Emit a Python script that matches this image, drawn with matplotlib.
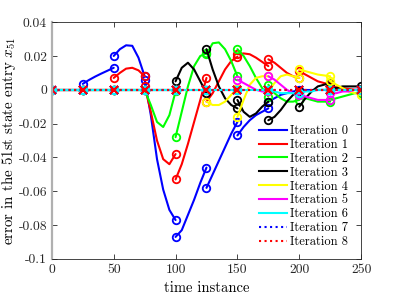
import numpy as np
import matplotlib
matplotlib.use("Agg")
import matplotlib.pyplot as plt
from matplotlib.lines import Line2D

# shooting nodes and sample offsets inside each segment
t_nodes = [0, 25, 50, 75, 100, 125, 150, 175, 200, 225]
seg_offsets = [0, 5, 10, 15, 20, 25]

ZERO = [0, 0, 0, 0, 0, 0]

# error values read per segment (10 segments x 6 samples)
iter0 = [ZERO,
         [0.0035, 0.0058, 0.0078, 0.0096, 0.0113, 0.013],
         [0.020, 0.024, 0.0263, 0.026, 0.019, 0.008],
         [0.006, -0.015, -0.041, -0.059, -0.071, -0.077],
         [-0.087, -0.083, -0.074, -0.065, -0.055, -0.046],
         [-0.058, -0.050, -0.042, -0.034, -0.026, -0.019],
         [-0.027, -0.022, -0.018, -0.015, -0.013, -0.011],
         [-0.007, -0.005, -0.003, -0.002, -0.001, -0.0005],
         ZERO, ZERO]
iter1 = [ZERO, ZERO,
         [0.007, 0.010, 0.0125, 0.013, 0.0115, 0.008],
         [0.002, -0.013, -0.030, -0.041, -0.044, -0.038],
         [-0.053, -0.044, -0.032, -0.019, -0.006, 0.007],
         [-0.007, -0.002, 0.005, 0.012, 0.017, 0.0195],
         [0.021, 0.0215, 0.021, 0.019, 0.0165, 0.014],
         [0.018, 0.016, 0.013, 0.010, 0.008, 0.007],
         [0.011, 0.009, 0.007, 0.005, 0.004, 0.003],
         [0.002, 0.0015, 0.001, 0.0005, 0.0, 0.0]]
iter2 = [ZERO, ZERO, ZERO,
         [0.0, -0.009, -0.019, -0.022, -0.015, -0.001],
         [-0.028, -0.013, 0.002, 0.014, 0.020, 0.0215],
         [0.021, 0.0275, 0.028, 0.024, 0.017, 0.008],
         [0.024, 0.020, 0.014, 0.007, 0.001, -0.004],
         [0.003, -0.002, -0.005, -0.007, -0.007, -0.006],
         [-0.003, -0.005, -0.006, -0.007, -0.007, -0.007],
         [-0.006, -0.005, -0.004, -0.003, -0.002, -0.002]]
iter3 = [ZERO, ZERO, ZERO, ZERO,
         [0.005, 0.013, 0.016, 0.012, 0.005, -0.002],
         [0.024, 0.012, 0.002, -0.005, -0.009, -0.011],
         [-0.006, -0.013, -0.016, -0.014, -0.010, -0.007],
         [-0.018, -0.016, -0.012, -0.007, -0.003, -0.001],
         [-0.010, -0.005, -0.001, 0.002, 0.003, 0.004],
         [0.001, 0.001, 0.002, 0.002, 0.002, 0.002]]
iter4 = [ZERO, ZERO, ZERO, ZERO, ZERO,
         [-0.007, -0.009, -0.009, -0.007, -0.003, 0.001],
         [-0.016, -0.006, 0.003, 0.007, 0.008, 0.008],
         [-0.001, 0.004, 0.008, 0.009, 0.008, 0.007],
         [0.012, 0.011, 0.010, 0.009, 0.0085, 0.008],
         [0.005, 0.003, 0.001, -0.001, -0.002, -0.003]]
iter5 = [ZERO, ZERO, ZERO, ZERO, ZERO, ZERO,
         [0.006, 0.004, 0.002, 0.000, -0.001, -0.001],
         [0.008, 0.006, 0.003, 0.000, -0.002, -0.003],
         [-0.002, -0.004, -0.005, -0.006, -0.006, -0.006],
         [-0.002, -0.002, -0.001, -0.001, 0.0, 0.0]]
iter6 = [ZERO, ZERO, ZERO, ZERO, ZERO, ZERO, ZERO,
         [0.0, -0.001, -0.002, -0.002, -0.002, -0.002],
         [-0.002, -0.001, -0.001, 0.0, 0.0, 0.0],
         ZERO]
iter7 = [ZERO] * 10
iter8 = [ZERO] * 10

iterations = [iter0, iter1, iter2, iter3, iter4, iter5, iter6, iter7, iter8]
labels = ["Iteration %d" % k for k in range(9)]
colors = ["#0000ff", "#ff0000", "#00ff00", "#000000", "#ffff00",
          "#ff00ff", "#00ffff", "#0000ff", "#ff0000"]
styles = ["-"] * 7 + [":", ":"]
markers = ["o"] * 7 + ["x", "x"]

xticks = [0, 50, 100, 150, 200, 250]
yticks = [-0.1, -0.08, -0.06, -0.04, -0.02, 0, 0.02, 0.04]
ytick_labels = ["-0.1", "-0.08", "-0.06", "-0.04", "-0.02", "0", "0.02", "0.04"]

plt.rcParams["font.family"] = ["cmr10", "DejaVu Serif"]
plt.rcParams["mathtext.fontset"] = "cm"
plt.rcParams["axes.unicode_minus"] = False

fig = plt.figure(figsize=(3.99, 2.99), dpi=100)
ax = fig.add_axes([0.130, 0.134, 0.775, 0.792])

for it, col, ls, mk in zip(iterations, colors, styles, markers):
    for t0, seg in zip(t_nodes, it):
        ts = [t0 + o for o in seg_offsets]
        ax.plot(ts, seg, color=col, ls=ls, lw=1.5, marker=mk, markevery=[0, -1],
                ms=5.4, mew=1.3, mfc="none", solid_capstyle="round")

handles = [Line2D([0], [0], color=c, ls=s, lw=1.5) for c, s in zip(colors, styles)]
ax.legend(handles, labels, loc="lower right", frameon=False, fontsize=9,
          handlelength=2.2, handletextpad=0.3, labelspacing=0.14,
          borderaxespad=0.0, bbox_to_anchor=(0.975, 0.025))

ax.set_xlim(0, 250)
ax.set_ylim(-0.1, 0.04)
ax.set_xticks(xticks)
ax.set_xticklabels([str(x) for x in xticks])
ax.set_yticks(yticks)
ax.set_yticklabels(ytick_labels)
ax.tick_params(direction="in", length=3.5, width=0.6, labelsize=9.8,
               top=True, right=True, colors="#262626")
for side in ["top", "right", "bottom"]:
    ax.spines[side].set_color("#262626")
    ax.spines[side].set_linewidth(0.6)
ax.spines["left"].set_color("#b0b0b0")
ax.spines["left"].set_linewidth(1.6)

ax.set_xlabel("time instance", fontsize=10.5, labelpad=4)
ax.set_ylabel(r"error in the 51st state entry $x_{51}$", fontsize=10.8, labelpad=0)

fig.savefig("out.png", dpi=100)
